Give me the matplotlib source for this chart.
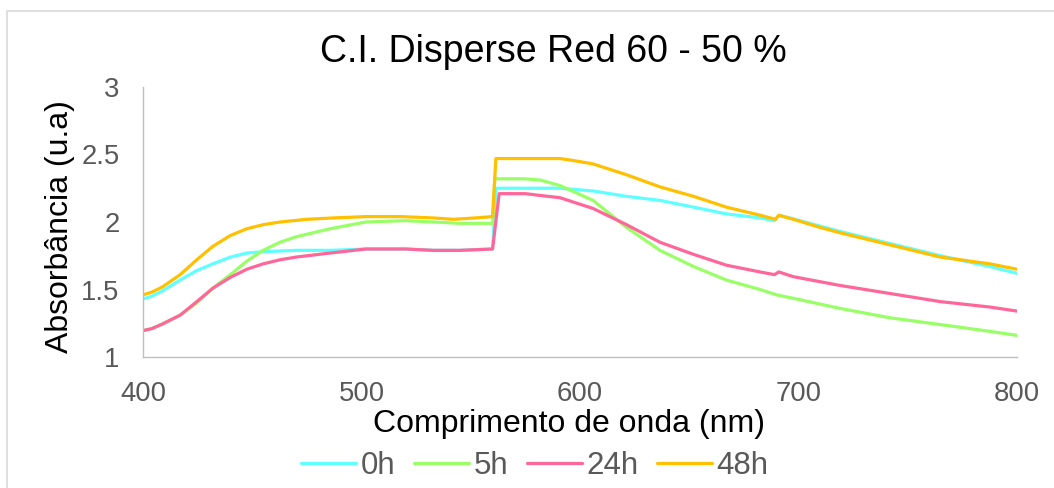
import matplotlib
matplotlib.use('Agg')
import matplotlib.pyplot as plt
from matplotlib.patches import Rectangle

plt.rcParams['font.family'] = ['Liberation Sans', 'DejaVu Sans']

# dados
x_0h = [400, 404, 409, 417, 424.6, 432, 440, 447.5, 455, 470, 485.6, 502, 520, 533, 545, 560,
        561.5, 575, 590.8, 606, 621.3, 636.6, 652, 667, 682.4, 689, 691, 696, 719, 742, 765, 787.6, 800]
y_0h = [1.43, 1.45, 1.49, 1.57, 1.64, 1.69, 1.74, 1.77, 1.78, 1.79, 1.79, 1.80, 1.80, 1.79, 1.79, 1.80,
        2.25, 2.25, 2.25, 2.23, 2.19, 2.16, 2.11, 2.06, 2.03, 2.01, 2.05, 2.03, 1.93, 1.84, 1.75, 1.67, 1.62]

x_5h = [400, 404, 409, 417, 424.6, 432, 440, 447.5, 455, 462.7, 470, 485.6, 502, 520, 533, 545, 560,
        561, 575, 582, 590.8, 595, 606, 613.6, 621.3, 636.6, 652, 667, 682.4, 690, 697.6, 719, 742, 765, 787.6, 800]
y_5h = [1.195, 1.21, 1.245, 1.31, 1.40, 1.51, 1.61, 1.71, 1.79, 1.85, 1.89, 1.95, 2.00, 2.01, 2.00, 1.99, 1.99,
        2.32, 2.32, 2.31, 2.27, 2.24, 2.16, 2.06, 1.96, 1.79, 1.67, 1.57, 1.50, 1.46, 1.435, 1.36, 1.29, 1.24, 1.19, 1.16]

x_24h = [400, 404, 409, 417, 424.6, 432, 440, 447.5, 455, 462.7, 470, 485.6, 502, 520, 533, 545, 560,
         563, 575, 580, 590.8, 606, 621.3, 636.6, 652, 667, 682.4, 689, 691, 697.6, 719, 742, 765, 787.6, 800]
y_24h = [1.195, 1.21, 1.245, 1.31, 1.41, 1.51, 1.59, 1.65, 1.69, 1.72, 1.74, 1.77, 1.80, 1.80, 1.79, 1.79, 1.80,
         2.21, 2.21, 2.20, 2.18, 2.10, 1.98, 1.85, 1.76, 1.68, 1.63, 1.61, 1.63, 1.595, 1.53, 1.47, 1.41, 1.37, 1.34]

x_48h = [400, 404, 409, 417, 424.6, 432, 440, 447.5, 455, 462.7, 475, 487, 502, 518, 533, 542, 552, 560,
         561.5, 570, 580, 590.8, 595, 599, 606, 621.3, 636.6, 652, 667, 682.4, 689.5, 691, 697.6, 709.8,
         719, 742, 765, 787.6, 800]
y_48h = [1.46, 1.48, 1.52, 1.61, 1.72, 1.82, 1.90, 1.95, 1.98, 2.00, 2.02, 2.03, 2.04, 2.04, 2.03, 2.02, 2.03, 2.04,
         2.47, 2.47, 2.47, 2.47, 2.46, 2.45, 2.43, 2.35, 2.26, 2.19, 2.11, 2.05, 2.02, 2.05, 2.02, 1.96,
         1.92, 1.83, 1.74, 1.69, 1.65]

series = [('0h', x_0h, y_0h, '#5FFFFF'),
          ('5h', x_5h, y_5h, '#99FF66'),
          ('24h', x_24h, y_24h, '#FF6699'),
          ('48h', x_48h, y_48h, '#FFC000')]

x_ticks = [400, 500, 600, 700, 800]
y_ticks = [1, 1.5, 2, 2.5, 3]
y_ticklabels = ['1', '1.5', '2', '2.5', '3']

W, H = 1054, 488
fig = plt.figure(figsize=(W / 100, H / 100), dpi=100)
ax = fig.add_axes([143 / W, 1 - 357 / H, (1017 - 143) / W, (357 - 87) / H])

handles = []
for name, xs, ys, cor in series:
    ln, = ax.plot(xs, ys, color=cor, lw=2.3, label=name, solid_capstyle='round')
    handles.append(ln)

ax.set_xlim(400, 800)
ax.set_ylim(1, 3)
ax.set_xticks(x_ticks)
ax.set_yticks(y_ticks)
ax.set_yticklabels(y_ticklabels)
ax.tick_params(length=0, labelsize=19.8, labelcolor='#595959')
ax.tick_params(axis='y', pad=17)
ax.tick_params(axis='x', pad=17)
for s in ['top', 'right']:
    ax.spines[s].set_visible(False)
for s in ['left', 'bottom']:
    ax.spines[s].set_color('#bfbfbf')
    ax.spines[s].set_linewidth(1.0)

fig.text(553 / W, 1 - 62 / H, 'C.I. Disperse Red 60 - 50 %', ha='center', va='baseline', fontsize=27)
fig.text(569 / W, 1 - 432 / H, 'Comprimento de onda (nm)', ha='center', va='baseline', fontsize=23)
fig.text(60 / W, 1 - 227 / H, 'Absorbância (u.a)', ha='center', va='center', rotation=90, fontsize=23)

leg = fig.legend(handles=handles, loc='center', bbox_to_anchor=(535 / W, 1 - 466 / H), ncol=4,
                 frameon=False, fontsize=22.5, handlelength=1.75, handletextpad=0.15, columnspacing=0.6,
                 borderpad=0)
for t in leg.get_texts():
    t.set_color('#595959')

fig.patches.append(Rectangle((7 / W, -0.1), 1.2, 1 - 11 / H + 0.1, transform=fig.transFigure,
                             fill=False, ec='#d9d9d9', lw=1.2))

fig.savefig('out.png', dpi=100)
